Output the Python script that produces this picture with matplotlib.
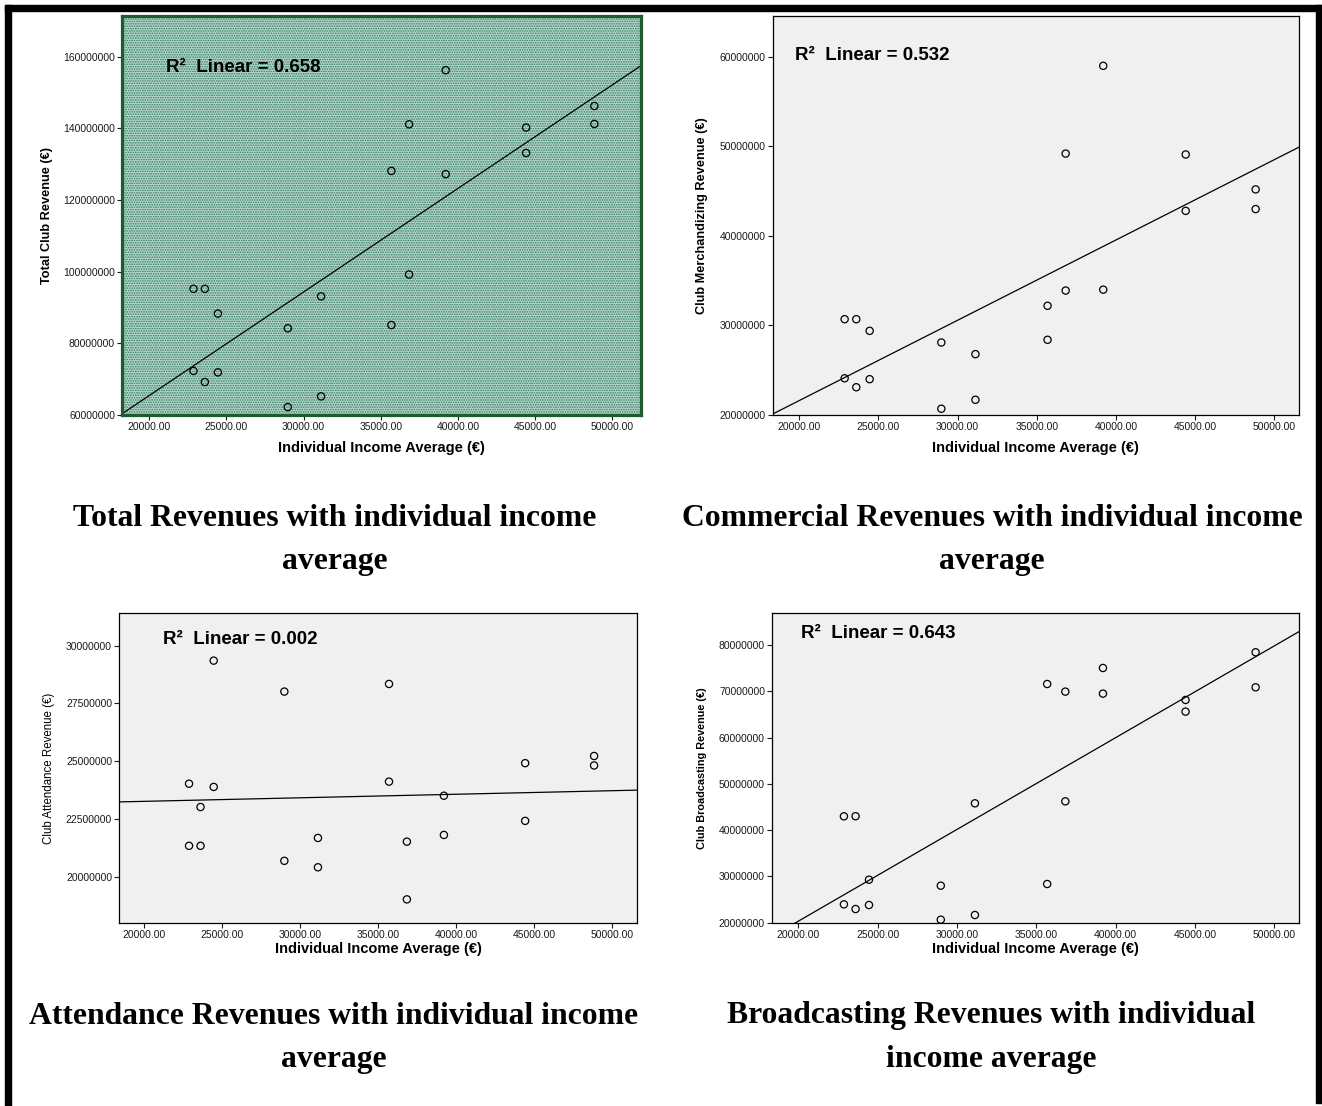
import numpy as np
import matplotlib
matplotlib.use("Agg")
import matplotlib.pyplot as plt
from matplotlib.patches import Rectangle
from matplotlib.ticker import FormatStrFormatter, MultipleLocator

plt.rcParams['font.family'] = ['Liberation Sans', 'DejaVu Sans']
plt.rcParams['hatch.linewidth'] = 0.8

# individual income average (EUR), two clubs per country
income = [22864, 22864, 23600, 23600, 24445, 24445, 28973, 28973, 31127, 31127,
          35682, 35682, 36827, 36827, 39200, 39200, 44409, 44409, 48827, 48827]

# club revenues, millions of EUR
total_rev = [95.2, 72.3, 95.2, 69.2, 88.3, 71.9, 84.2, 62.2, 93.1, 65.2,
             128.1, 85.1, 141.1, 99.2, 156.2, 127.2, 140.2, 133.1, 146.2, 141.2]
merch_rev = [30.7, 24.1, 30.7, 23.1, 29.4, 24.0, 28.1, 20.7, 26.8, 21.7,
             32.2, 28.4, 49.2, 33.9, 59.0, 34.0, 49.1, 42.8, 45.2, 43.0]
attend_rev = [24.02, 21.33, 23.01, 21.33, 29.35, 23.88, 28.01, 20.68, 21.67, 20.40,
              28.34, 24.11, 21.51, 19.01, 23.50, 21.80, 24.91, 22.41, 25.22, 24.81]
broad_rev = [42.98, 23.96, 43.0, 22.95, 29.29, 23.82, 28.0, 20.65, 45.79, 21.66,
             71.57, 28.36, 69.92, 46.22, 75.03, 69.49, 68.12, 65.6, 78.42, 70.85]

r2_text = ['0.658', '0.532', '0.002', '0.643']
ylabels = ['Total Club Revenue (€)', 'Club Merchandizing Revenue (€)',
           'Club Attendance Revenue (€)', 'Club Broadcasting Revenue (€)']
xlabel = 'Individual Income Average (€)'
titles = [['Total Revenues with individual income', 'average'],
          ['Commercial Revenues with individual income', 'average'],
          ['Attendance Revenues with individual income', 'average'],
          ['Broadcasting Revenues with individual', 'income average']]

W, H = 1322, 1106
fig = plt.figure(figsize=(W / 100, H / 100), dpi=100)
fig.patch.set_facecolor('white')

# pixel boxes: left, top, right, bottom
boxes = [(122, 15.7, 640.6, 415), (772.7, 15.7, 1298.7, 415),
         (119.1, 613.3, 636.8, 922.7), (771.9, 613.3, 1298.7, 922.7)]
xlims = [(18233, 51824), (18320, 51547), (18381, 51565), (18323, 51544)]
ylims = [(60, 171.4), (20, 64.6), (18.0, 31.4), (20, 86.84)]
ysteps = [20, 10, 2.5, 10]
ylab_x = [47, 702, 49, 702]
ylab_size = [9.2, 9.2, 8.3, 7.8]
ylab_weight = ['bold', 'bold', 'normal', 'bold']
r2_pos = [(166, 67), (795, 55), (163, 639), (800.6, 633)]
xlab_y = [448, 448, 949, 949]
series = [total_rev, merch_rev, attend_rev, broad_rev]

for i in range(4):
    l, t, r, b = boxes[i]
    ax = fig.add_axes([l / W, 1 - b / H, (r - l) / W, (b - t) / H])
    x = np.array(income, dtype=float)
    y = np.array(series[i]) * 1e6

    if i == 0:
        # green dotted fill of the first chart
        ax.set_facecolor('white')
        ax.add_patch(Rectangle((0, 0), 1, 1, transform=ax.transAxes,
                               facecolor='#B6D7CD', edgecolor='#2F7A5E',
                               hatch='.......', lw=0, zorder=0))
        for s in ax.spines.values():
            s.set_color('#1E5A32')
            s.set_linewidth(2.3)
    else:
        ax.set_facecolor('#F0F0F0')
        for s in ax.spines.values():
            s.set_color('black')
            s.set_linewidth(0.9)

    ax.scatter(x, y, s=27, facecolors='none', edgecolors='black', linewidths=0.9, zorder=3)

    # fit line
    k, c = np.polyfit(x, y, 1)
    xx = np.array(xlims[i], dtype=float)
    ax.plot(xx, k * xx + c, color='black', lw=0.9, zorder=2)

    ax.set_xlim(xlims[i])
    ax.set_ylim(ylims[i][0] * 1e6, ylims[i][1] * 1e6)
    ax.xaxis.set_major_locator(MultipleLocator(5000))
    ax.xaxis.set_major_formatter(FormatStrFormatter('%.2f'))
    ax.yaxis.set_major_locator(MultipleLocator(ysteps[i] * 1e6))
    ax.yaxis.set_major_formatter(FormatStrFormatter('%d'))
    ax.tick_params(direction='out', length=3.5, width=0.8, labelsize=7.5,
                   pad=1.5, colors='#1a1a1a', top=False, right=False)

    ax.set_xlabel(xlabel, fontsize=10.5, fontweight='bold', va='center')
    ax.xaxis.set_label_coords(0.5, (b - xlab_y[i]) / (b - t))
    ax.set_ylabel(ylabels[i], fontsize=ylab_size[i], fontweight=ylab_weight[i], va='center')
    ax.yaxis.set_label_coords((ylab_x[i] - l) / (r - l), 0.5)

    px, py = r2_pos[i]
    ax.text((px - l) / (r - l), (b - py) / (b - t), 'R²  Linear = ' + r2_text[i],
            transform=ax.transAxes, fontsize=13.5, fontweight='bold',
            ha='left', va='center', zorder=4)

# captions under each chart
cap_x = [335, 992, 334, 991]
cap_y = [519, 519, 1016, 1016]
for i in range(4):
    for j, line in enumerate(titles[i]):
        fig.text(cap_x[i] / W, 1 - (cap_y[i] + 43 * j) / H, line,
                 family='Liberation Serif', fontsize=22.8, fontweight='bold',
                 ha='center', va='center')

# black page frame (open at the bottom)
fig.add_artist(Rectangle((5 / W, 1 - 11 / H), 1317 / W, 6 / H,
                         transform=fig.transFigure, color='black'))
fig.add_artist(Rectangle((5 / W, 0), 6 / W, 1101 / H,
                         transform=fig.transFigure, color='black'))
fig.add_artist(Rectangle((1316 / W, 3 / H), 6 / W, 1098 / H,
                         transform=fig.transFigure, color='black'))

fig.savefig('out.png', dpi=100)
